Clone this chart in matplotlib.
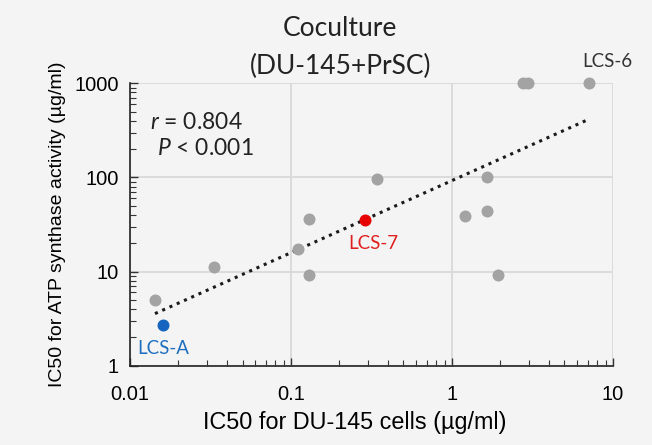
import numpy as np
import matplotlib
matplotlib.use("Agg")
import matplotlib.pyplot as plt

plt.rcParams['mathtext.fontset'] = 'custom'
plt.rcParams['mathtext.it'] = 'Lato:italic'

# data (IC50 values, ug/ml)
x_gray = [0.0143, 0.0332, 0.110, 0.130, 0.130, 0.340, 1.21, 1.64, 1.64, 1.92, 2.77, 2.98, 7.13]
y_gray = [4.95, 11.2, 17.3, 36.0, 9.3, 96.0, 38.7, 43.5, 101.0, 9.3, 1000.0, 1000.0, 1000.0]
x_lcs7, y_lcs7 = [0.288], [35.7]
x_lcsa, y_lcsa = [0.0161], [2.73]

x_all = np.array(x_gray + x_lcs7 + x_lcsa)
y_all = np.array(y_gray + y_lcs7 + y_lcsa)

xticks = [0.01, 0.1, 1, 10]
xticklabels = ['0.01', '0.1', '1', '10']
yticks = [1, 10, 100, 1000]
yticklabels = ['1', '10', '100', '1000']

bg = '#f4f4f4'
fig = plt.figure(figsize=(6.52, 4.45), dpi=100, facecolor=bg)
ax = fig.add_axes([0.1994, 0.1782, 0.7406, 0.6346], facecolor=bg)

ax.set_xscale('log')
ax.set_yscale('log')
ax.set_xlim(0.01, 10)
ax.set_ylim(1, 1000)

ax.grid(True, which='major', color='#d9d9d9', lw=1.3)
ax.set_axisbelow(True)
for s in ['top', 'right']:
    ax.spines[s].set_visible(False)
for s in ['left', 'bottom']:
    ax.spines[s].set_color('#222222')
    ax.spines[s].set_linewidth(1.2)

ax.tick_params(which='both', direction='in', color='#333333')
ax.tick_params(which='major', length=6, width=1.0, labelsize=14.5)
ax.tick_params(axis='x', which='major', pad=14)
ax.tick_params(axis='y', which='major', pad=8)
ax.tick_params(which='minor', length=4, width=0.8)
ax.set_xticks(xticks)
ax.set_xticklabels(xticklabels, family='Liberation Sans')
ax.set_yticks(yticks)
ax.set_yticklabels(yticklabels, family='Liberation Sans')

# power trendline fitted on log-log data
b, a = np.polyfit(np.log10(x_all), np.log10(y_all), 1)
xt = np.logspace(np.log10(x_all.min()), np.log10(x_all.max()), 100)
ax.plot(xt, 10 ** (a + b * np.log10(xt)), ls=(0, (1, 1.6)), lw=2.2, color='#1a1a1a', zorder=2)

ax.scatter(x_gray, y_gray, s=58, color='#a3a3a3', zorder=3, clip_on=False)
ax.scatter(x_lcs7, y_lcs7, s=58, color='#e60000', zorder=3)
ax.scatter(x_lcsa, y_lcsa, s=58, color='#1565c0', zorder=3)

lab_font = 'Lato'
ax.annotate('LCS-6', (x_gray[-1], y_gray[-1]), xytext=(13, 16), textcoords='offset points',
            ha='center', va='center', fontsize=13.5, family=lab_font, color='#333333')
ax.annotate('LCS-7', (x_lcs7[0], y_lcs7[0]), xytext=(6, -17), textcoords='offset points',
            ha='center', va='center', fontsize=13.5, family=lab_font, color='#e02020')
ax.annotate('LCS-A', (x_lcsa[0], y_lcsa[0]), xytext=(0, -17), textcoords='offset points',
            ha='center', va='center', fontsize=13.5, family=lab_font, color='#1f6fc0')

ax.text(0.041, 0.86, r'$r$ = 0.804', transform=ax.transAxes, fontsize=16.5, family=lab_font,
        ha='left', va='center', color='#222222')
ax.text(0.056, 0.77, r'$P$ < 0.001', transform=ax.transAxes, fontsize=16.5, family=lab_font,
        ha='left', va='center', color='#222222')

fig.text(0.522, 0.894, 'Coculture\n(DU-145+PrSC)', ha='center', va='center', fontsize=19,
         family=lab_font, color='#222222', linespacing=1.65)

ax.set_xlabel('IC50 for DU-145 cells (\u00b5g/ml)', fontsize=16.8, family='Liberation Sans', labelpad=5)
ax.xaxis.set_label_coords(0.466, -0.16)
ax.set_ylabel('IC50 for ATP synthase activity (\u00b5g/ml)', fontsize=14, family='Liberation Sans', labelpad=6)

fig.savefig('out.png', dpi=100, facecolor=bg)
